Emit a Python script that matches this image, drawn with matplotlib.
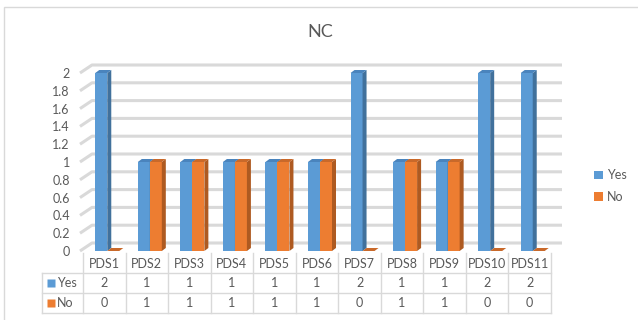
import matplotlib
matplotlib.use("Agg")
import matplotlib.pyplot as plt
from matplotlib.patches import Polygon, Rectangle, Patch

categories = ["PDS1", "PDS2", "PDS3", "PDS4", "PDS5", "PDS6",
              "PDS7", "PDS8", "PDS9", "PDS10", "PDS11"]
yes_vals = [2, 1, 1, 1, 1, 1, 2, 1, 1, 2, 2]
no_vals = [0, 1, 1, 1, 1, 1, 0, 1, 1, 0, 0]
series_names = ["Yes", "No"]
y_ticks = [0, 0.2, 0.4, 0.6, 0.8, 1, 1.2, 1.4, 1.6, 1.8, 2]
y_tick_labels = ["0", "0.2", "0.4", "0.6", "0.8", "1", "1.2", "1.4", "1.6", "1.8", "2"]

face_colors = ["#5B9BD5", "#ED7D31"]
side_colors = ["#41719C", "#AE5A21"]
top_colors = ["#4A84BD", "#C9692A"]
grid_color = "#d9d9d9"
text_color = "#595959"

plt.rcParams['font.family'] = ['Lato', 'DejaVu Sans']

W, H = 638, 320
fig = plt.figure(figsize=(W / 100, H / 100), dpi=100)


def px(x0, y0, x1, y1):
    return [x0 / W, 1 - y1 / H, (x1 - x0) / W, (y1 - y0) / H]


# chart border (top / left visible)
fig.add_artist(Rectangle((4 / W, -0.05), 1.1, 1 - 7 / H + 0.05, transform=fig.transFigure,
                         fill=False, edgecolor=grid_color, lw=1))

col_px = (551 - 83) / len(categories)
unit_px = 89
ax = fig.add_axes(px(83, 251 - 2.2 * unit_px, 551, 251))
ax.set_xlim(-0.5, len(categories) - 0.5)
ax.set_ylim(0, 2.2)
for s in ax.spines.values():
    s.set_visible(False)
ax.set_xticks([])
ax.set_yticks(y_ticks)
ax.set_yticklabels(y_tick_labels)
ax.tick_params(axis='y', length=0, pad=9.5, labelsize=9, labelcolor=text_color)
ax.patch.set_alpha(0)

# 3D-ish gridlines: short diagonal on the side wall, then back wall
gdx = 12 / col_px
gdy = 8 / unit_px
x_start = -0.5 - 3 / col_px
x_end = len(categories) - 0.5 + 11 / col_px
for v in y_ticks:
    ax.plot([x_start, x_start + gdx, x_end], [v, v + gdy, v + gdy],
            color=grid_color, lw=2.2, zorder=1, clip_on=False, solid_capstyle='butt')

bw = 12 / col_px
shift = 3 / col_px
ddx = 4 / col_px
ddy = 3 / unit_px
for k, vals in enumerate([yes_vals, no_vals]):
    xs = [i + shift - bw + k * bw for i in range(len(categories))]
    ax.bar(xs, vals, width=bw, align='edge', color=face_colors[k], lw=0,
           zorder=3 + k, clip_on=False)
    for x, v in zip(xs, vals):
        side = Polygon([(x + bw, 0), (x + bw + ddx, ddy), (x + bw + ddx, v + ddy), (x + bw, v)],
                       closed=True, color=side_colors[k], lw=0, zorder=3 + k, clip_on=False)
        top = Polygon([(x, v), (x + ddx, v + ddy), (x + bw + ddx, v + ddy), (x + bw, v)],
                      closed=True, color=top_colors[k], lw=0, zorder=3 + k, clip_on=False)
        ax.add_patch(side)
        ax.add_patch(top)

# title
fig.text(320 / W, 1 - 32 / H, "NC", ha='center', va='center', fontsize=13, color=text_color)

# legend on the right
handles = [Patch(facecolor=c, edgecolor='none') for c in face_colors]
fig.legend(handles, series_names, loc='upper left', bbox_to_anchor=(583 / W, 1 - 158 / H),
           frameon=False, fontsize=9, handlelength=0.7, handleheight=0.7,
           handletextpad=0.3, labelspacing=0.75, labelcolor=text_color)

# data table
left_w = 41 / col_px
tax = fig.add_axes(px(42, 253, 551, 313))
x_left = -0.5 - left_w
tax.set_xlim(x_left, len(categories) - 0.5)
tax.set_ylim(3, 0)
tax.axis('off')
tc = "#d9d9d9"
for j in range(len(categories) + 1):
    tax.plot([j - 0.5, j - 0.5], [0, 3], color=tc, lw=1, clip_on=False)
tax.plot([x_left, x_left], [1, 3], color=tc, lw=1, clip_on=False)
for r in [1, 2, 3]:
    tax.plot([x_left, len(categories) - 0.5], [r, r], color=tc, lw=1, clip_on=False)
for i, name in enumerate(categories):
    tax.text(i, 0.55, name, ha='center', va='center', fontsize=9, color=text_color)
    tax.text(i, 1.5, str(yes_vals[i]), ha='center', va='center', fontsize=9, color=text_color)
    tax.text(i, 2.5, str(no_vals[i]), ha='center', va='center', fontsize=9, color=text_color)
for r, (name, c) in enumerate(zip(series_names, face_colors)):
    tax.plot([x_left + 9 / col_px], [1.5 + r], marker='s', ms=5.8, color=c, mec='none',
             clip_on=False)
    tax.text(x_left + 15 / col_px, 1.5 + r, name, ha='left', va='center', fontsize=9,
             color=text_color)

fig.savefig("out.png", dpi=100)
